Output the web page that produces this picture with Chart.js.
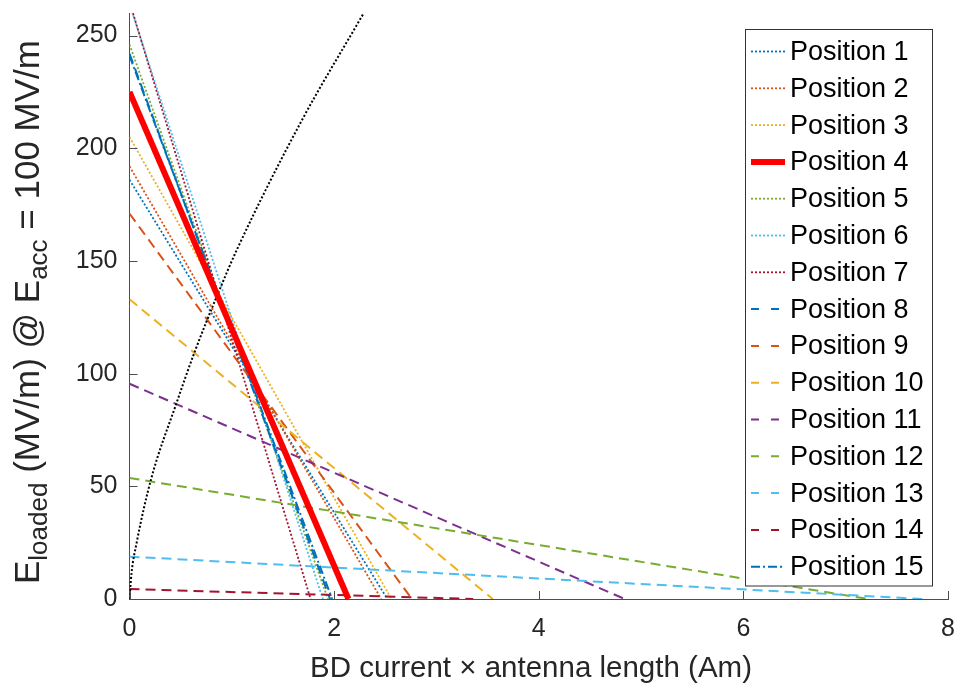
<!DOCTYPE html>
<html>
<head>
<meta charset="utf-8">
<script src="https://cdn.jsdelivr.net/npm/chart.js@4/dist/chart.umd.min.js"></script>
<style>
  html, body { margin: 0; padding: 0; background: #fff; }
  #wrap { width: 960px; height: 698px; }
</style>
</head>
<body>
<div id="wrap"><canvas id="chart" width="960" height="698"></canvas></div>
<script>
// Data
const positions = ['Position 1', 'Position 2', 'Position 3', 'Position 4', 'Position 5',
  'Position 6', 'Position 7', 'Position 8', 'Position 9', 'Position 10',
  'Position 11', 'Position 12', 'Position 13', 'Position 14', 'Position 15'];
// E_loaded at zero current (MV/m)
const startValues = [186, 192, 205, 225, 246, 264, 265, 242, 171, 133, 95.5, 53.7, 18.8, 4.4, 241];
// current x length where E_loaded reaches zero (Am)
const zeroCrossings = [2.52, 2.46, 2.56, 2.14, 1.94, 1.89, 1.77, 1.96, 2.76, 3.55, 4.84, 7.22, 7.75, 3.36, 1.98];
// black dotted curve
const curveX = [0, 0.02, 0.07, 0.21, 0.46, 0.64, 0.86, 1.06, 1.68, 2.29];
const curveY = [0, 11.5, 25, 53, 87, 110, 135, 156, 212, 260];
const xTicks = [0, 2, 4, 6, 8];
const yTicks = [0, 50, 100, 150, 200, 250];

// MATLAB default colour order
const blue = '#0072BD', orange = '#D95319', yellow = '#EDB120', purple = '#7E2F8E',
      green = '#77AC30', cyan = '#4DBEEE', wine = '#A2142F';
const colors = [blue, orange, yellow, '#FF0000', green, cyan, wine,
  blue, orange, yellow, purple, green, cyan, wine, blue];

const DOT = [2, 2], DASH = [10, 6], DASHDOT = [9, 3, 2, 3];
function styleFor(i) {
  if (i === 3) return { dash: [], width: 6 };
  if (i < 7) return { dash: DOT, width: 1.8 };
  if (i < 14) return { dash: DASH, width: 2 };
  return { dash: DASHDOT, width: 2 };
}

const FONT = "'Liberation Sans', Arial, Helvetica, sans-serif";

const datasets = positions.map((name, i) => {
  const s = styleFor(i);
  return {
    label: name,
    data: [{ x: 0, y: startValues[i] }, { x: zeroCrossings[i], y: 0 }],
    borderColor: colors[i],
    borderWidth: s.width,
    borderDash: s.dash,
    pointRadius: 0,
    order: i === 3 ? -2 : 20 - i
  };
});
datasets.push({
  label: 'curve',
  data: curveX.map((x, i) => ({ x: x, y: curveY[i] })),
  borderColor: '#000',
  borderWidth: 2,
  borderDash: DOT,
  pointRadius: 0,
  cubicInterpolationMode: 'monotone',
  order: -1
});

// inward ticks, axis titles and the boxed legend
const matlabAxes = {
  id: 'matlabAxes',
  afterDatasetsDraw(chart) {
    const ctx = chart.ctx, a = chart.chartArea;
    const xs = chart.scales.x, ys = chart.scales.y;
    ctx.save();
    ctx.strokeStyle = '#4d4d4d';
    ctx.lineWidth = 1;
    ctx.beginPath();
    xTicks.forEach(v => {
      const px = Math.round(xs.getPixelForValue(v)) + 0.5;
      ctx.moveTo(px, a.bottom); ctx.lineTo(px, a.bottom - 8);
    });
    yTicks.forEach(v => {
      const py = Math.round(ys.getPixelForValue(v)) + 0.5;
      ctx.moveTo(a.left, py); ctx.lineTo(a.left + 8, py);
    });
    ctx.stroke();
    ctx.restore();
  },
  afterDraw(chart) {
    const ctx = chart.ctx;
    ctx.save();
    ctx.fillStyle = '#262626';
    ctx.textBaseline = 'alphabetic';

    // x title
    ctx.font = '29.5px ' + FONT;
    ctx.textAlign = 'center';
    ctx.fillText('BD current \u00d7 antenna length (Am)', 531, 677);

    // y title with subscripts
    const parts = [
      ['E', 35, 0], ['loaded', 26, 8], [' (MV/m) @ E', 35, 0], ['acc', 26, 8], [' = 100 MV/m', 35, 0]
    ];
    let total = 0;
    parts.forEach(p => { ctx.font = p[1] + 'px ' + FONT; total += ctx.measureText(p[0]).width; });
    ctx.translate(39, 312);
    ctx.rotate(-Math.PI / 2);
    ctx.textAlign = 'left';
    let x = -total / 2;
    parts.forEach(p => {
      ctx.font = p[1] + 'px ' + FONT;
      ctx.fillText(p[0], x, p[2]);
      x += ctx.measureText(p[0]).width;
    });
    ctx.restore();

    // legend
    const box = { left: 745.5, top: 29.5, right: 932.5, bottom: 586 };
    ctx.save();
    ctx.fillStyle = '#fff';
    ctx.fillRect(box.left, box.top, box.right - box.left, box.bottom - box.top);
    ctx.strokeStyle = '#333';
    ctx.lineWidth = 1;
    ctx.strokeRect(box.left, box.top, box.right - box.left, box.bottom - box.top);
    ctx.font = '27px ' + FONT;
    ctx.textAlign = 'left';
    ctx.textBaseline = 'middle';
    positions.forEach((name, i) => {
      const y = 51.5 + i * 36.8;
      const s = styleFor(i);
      ctx.strokeStyle = colors[i];
      ctx.lineWidth = s.width;
      ctx.setLineDash(i >= 7 && i < 14 ? [8, 12] : s.dash);
      ctx.beginPath();
      ctx.moveTo(751, y); ctx.lineTo(785, y);
      ctx.stroke();
      ctx.fillStyle = '#000';
      ctx.fillText(name, 790, y + 1);
    });
    ctx.restore();
  }
};

new Chart(document.getElementById('chart'), {
  type: 'line',
  data: { datasets: datasets },
  plugins: [matlabAxes],
  options: {
    responsive: false,
    animation: false,
    events: [],
    layout: { padding: { left: 0, right: 12, top: 13, bottom: 0 } },
    plugins: { legend: { display: false }, tooltip: { enabled: false } },
    scales: {
      x: {
        type: 'linear',
        min: 0, max: 8,
        afterFit(scale) {
          scale.height = 99;
          scale.paddingLeft = 0; scale.paddingRight = 0;
        },
        afterBuildTicks(scale) { scale.ticks = xTicks.map(v => ({ value: v })); },
        grid: { display: false, drawTicks: false },
        border: { display: true, color: '#4d4d4d', width: 1 },
        ticks: { padding: 15, color: '#262626', font: { family: FONT, size: 25 }, maxRotation: 0 }
      },
      y: {
        type: 'linear',
        min: 0, max: 260,
        afterFit(scale) {
          scale.width = 129.5;
          scale.paddingTop = 0; scale.paddingBottom = 0;
        },
        afterBuildTicks(scale) { scale.ticks = yTicks.map(v => ({ value: v })); },
        grid: { display: false, drawTicks: false },
        border: { display: true, color: '#4d4d4d', width: 1 },
        ticks: { padding: 12, color: '#262626', font: { family: FONT, size: 25 } }
      }
    }
  }
});
</script>
</body>
</html>
